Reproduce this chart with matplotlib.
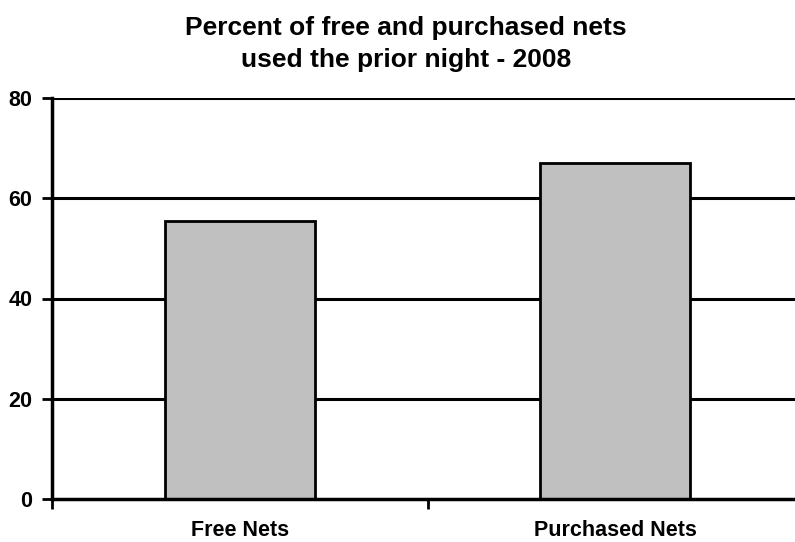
import matplotlib
matplotlib.use("Agg")
import matplotlib.pyplot as plt

categories = ["Free Nets", "Purchased Nets"]
values = [55.4, 67.0]
yticks = [0, 20, 40, 60, 80]
title = "Percent of free and purchased nets\nused the prior night - 2008"

plt.rcParams["font.family"] = ["Liberation Sans", "DejaVu Sans"]
plt.rcParams["font.weight"] = "bold"

fig = plt.figure(figsize=(7.95, 5.42), dpi=100)
ax = fig.add_axes([52 / 795, 1 - 499 / 542, 751 / 795, 401 / 542])

x = list(range(len(categories)))
ax.bar(x, values, width=0.40, color="#c0c0c0", edgecolor="black", linewidth=2, zorder=3)

ax.set_xlim(-0.5, len(categories) - 0.5)
ax.set_ylim(0, 80)
ax.set_yticks(yticks)
ax.set_yticklabels([str(t) for t in yticks], fontsize=15.5, fontweight="bold")
for t in yticks[1:]:
    ax.axhline(t, color="black", linewidth=2.2, zorder=1)

# category labels centred under the bars, tick marks between categories
ax.set_xticks([-0.5, 0.5, 1.5])
ax.set_xticklabels([])
ax.set_xticks(x, minor=True)
ax.set_xticklabels(categories, minor=True, fontsize=15.5, fontweight="bold")
ax.tick_params(axis="x", which="minor", length=0, pad=15)
ax.tick_params(axis="x", which="major", length=7, width=2, direction="out")
ax.tick_params(axis="y", length=7, width=2, direction="out", pad=7)

for side in ["top", "right"]:
    ax.spines[side].set_visible(False)
for side in ["left", "bottom"]:
    ax.spines[side].set_linewidth(2.5)
    ax.spines[side].set_zorder(4)

fig.text(406 / 795, 1 - 44 / 542, title, ha="center", va="center",
         fontsize=19, fontweight="bold", linespacing=1.45)

fig.savefig("out.png", dpi=100)
